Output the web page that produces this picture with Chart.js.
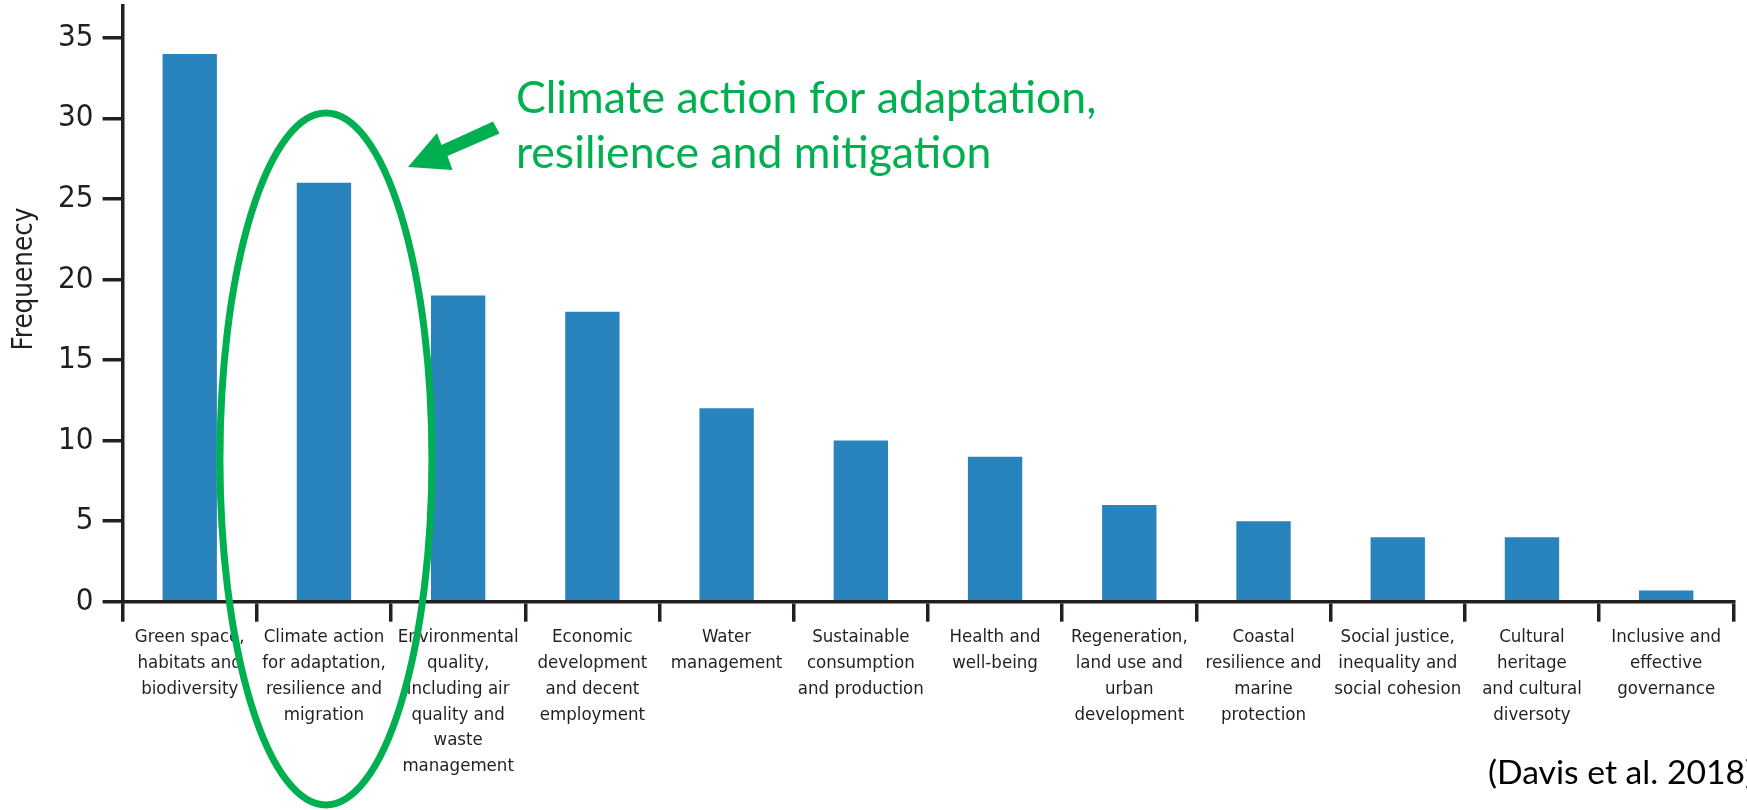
<!DOCTYPE html>
<html>
<head>
<meta charset="utf-8">
<script src="https://cdn.jsdelivr.net/npm/chart.js@4.4.1/dist/chart.umd.min.js"></script>
<style>
  html, body { margin: 0; padding: 0; background: #fff; }
  #wrap { position: relative; width: 1747px; height: 810px; }
</style>
</head>
<body>
<div id="wrap"><canvas id="freqChart"></canvas></div>
<script>
const categories = [
    ['Green space,', 'habitats and', 'biodiversity'],
    ['Climate action', 'for adaptation,', 'resilience and', 'migration'],
    ['Environmental', 'quality,', 'including air', 'quality and', 'waste', 'management'],
    ['Economic', 'development', 'and decent', 'employment'],
    ['Water', 'management'],
    ['Sustainable', 'consumption', 'and production'],
    ['Health and', 'well-being'],
    ['Regeneration,', 'land use and', 'urban', 'development'],
    ['Coastal', 'resilience and', 'marine', 'protection'],
    ['Social justice,', 'inequality and', 'social cohesion'],
    ['Cultural', 'heritage', 'and cultural', 'diversoty'],
    ['Inclusive and', 'effective', 'governance']
];
const frequency = [34, 26, 19, 18, 12, 10, 9, 6, 5, 4, 4, 0.7];
const yTicks = [0, 5, 10, 15, 20, 25, 30, 35];
const yMax = 37;
const yTitle = 'Frequenecy';
const calloutLines = ['Climate action for adaptation,', 'resilience and mitigation'];
const sourceNote = '(Davis et al. 2018)';
const highlightIndex = 1;

const ink = '#231f20';
const barBlue = '#2983bd';
const green = '#00b050';
const narrow = "'Liberation Sans Narrow', 'Arial Narrow', 'DejaVu Sans Condensed', sans-serif";
const callFont = "Lato, 'Open Sans', sans-serif";

// font size that makes a string fill a given width
function fitSize(ctx, text, family, width) {
    ctx.font = '100px ' + family;
    return 100 * width / ctx.measureText(text).width;
}

const annotations = {
    id: 'annotations',
    afterDraw(chart) {
        const ctx = chart.ctx;
        const xs = chart.scales.x;

        // y axis title (sits above the centre of the axis)
        ctx.save();
        ctx.fillStyle = ink;
        ctx.font = '27.5px ' + narrow;
        ctx.translate(25, 279);
        ctx.rotate(-Math.PI / 2);
        ctx.textAlign = 'center';
        ctx.textBaseline = 'middle';
        ctx.fillText(yTitle, 0, 0);
        ctx.restore();

        // ellipse round the highlighted category
        ctx.save();
        ctx.strokeStyle = green;
        ctx.lineWidth = 7;
        ctx.beginPath();
        ctx.ellipse(xs.getPixelForValue(highlightIndex) + 2, 459, 106, 346, 0, 0, Math.PI * 2);
        ctx.stroke();

        // arrow
        ctx.fillStyle = green;
        ctx.beginPath();
        ctx.moveTo(493, 121.5);
        ctx.lineTo(499.5, 133.5);
        ctx.lineTo(447.5, 156);
        ctx.lineTo(452.5, 170);
        ctx.lineTo(408, 167);
        ctx.lineTo(437, 133);
        ctx.lineTo(441.5, 145);
        ctx.closePath();
        ctx.fill();

        // callout text
        const size = fitSize(ctx, calloutLines[0], callFont, 581);
        ctx.font = size.toFixed(1) + 'px ' + callFont;
        ctx.textAlign = 'left';
        ctx.textBaseline = 'alphabetic';
        ctx.fillText(calloutLines[0], 516, 113);
        ctx.fillText(calloutLines[1], 516, 168);

        // source
        const srcSize = fitSize(ctx, '(Davis et al. 2018', callFont, 257);
        ctx.font = srcSize.toFixed(1) + 'px ' + callFont;
        ctx.fillStyle = '#000';
        ctx.fillText(sourceNote, 1488, 784);
        ctx.restore();
    }
};

const chart = new Chart(document.getElementById('freqChart'), {
    type: 'bar',
    data: {
        labels: categories,
        datasets: [{
            data: frequency,
            backgroundColor: barBlue,
            borderWidth: 0,
            barPercentage: 0.405,
            categoryPercentage: 1
        }]
    },
    options: {
        responsive: true,
        maintainAspectRatio: false,
        animation: false,
        layout: { padding: { top: 5.6, right: 13.7, left: 0, bottom: 0 } },
        plugins: {
            legend: { display: false },
            tooltip: { enabled: false }
        },
        scales: {
            x: {
                afterFit: s => { s.height = 208.3; s.paddingLeft = 0; s.paddingRight = 0; },
                border: { color: ink, width: 3.5 },
                grid: {
                    drawOnChartArea: false,
                    offset: true,
                    tickLength: 20,
                    tickWidth: 3.5,
                    tickColor: ink,
                    lineWidth: 3.5,
                    color: ink
                },
                ticks: {
                    color: ink,
                    font: { family: narrow, size: 18.5, lineHeight: 1.39 },
                    padding: 3,
                    maxRotation: 0,
                    minRotation: 0,
                    autoSkip: false
                }
            },
            y: {
                min: 0,
                max: yMax,
                afterBuildTicks: s => { s.ticks = yTicks.map(v => ({ value: v })); },
                afterFit: s => { s.width = 122.6; s.paddingTop = 0; s.paddingBottom = 0; },
                border: { color: ink, width: 3.5 },
                grid: {
                    drawOnChartArea: false,
                    tickLength: 20,
                    tickWidth: 3.5,
                    tickColor: ink,
                    lineWidth: 3.5,
                    color: ink
                },
                ticks: {
                    color: ink,
                    font: { family: narrow, size: 31 },
                    padding: 9
                }
            }
        }
    },
    plugins: [annotations]
});
</script>
</body>
</html>
